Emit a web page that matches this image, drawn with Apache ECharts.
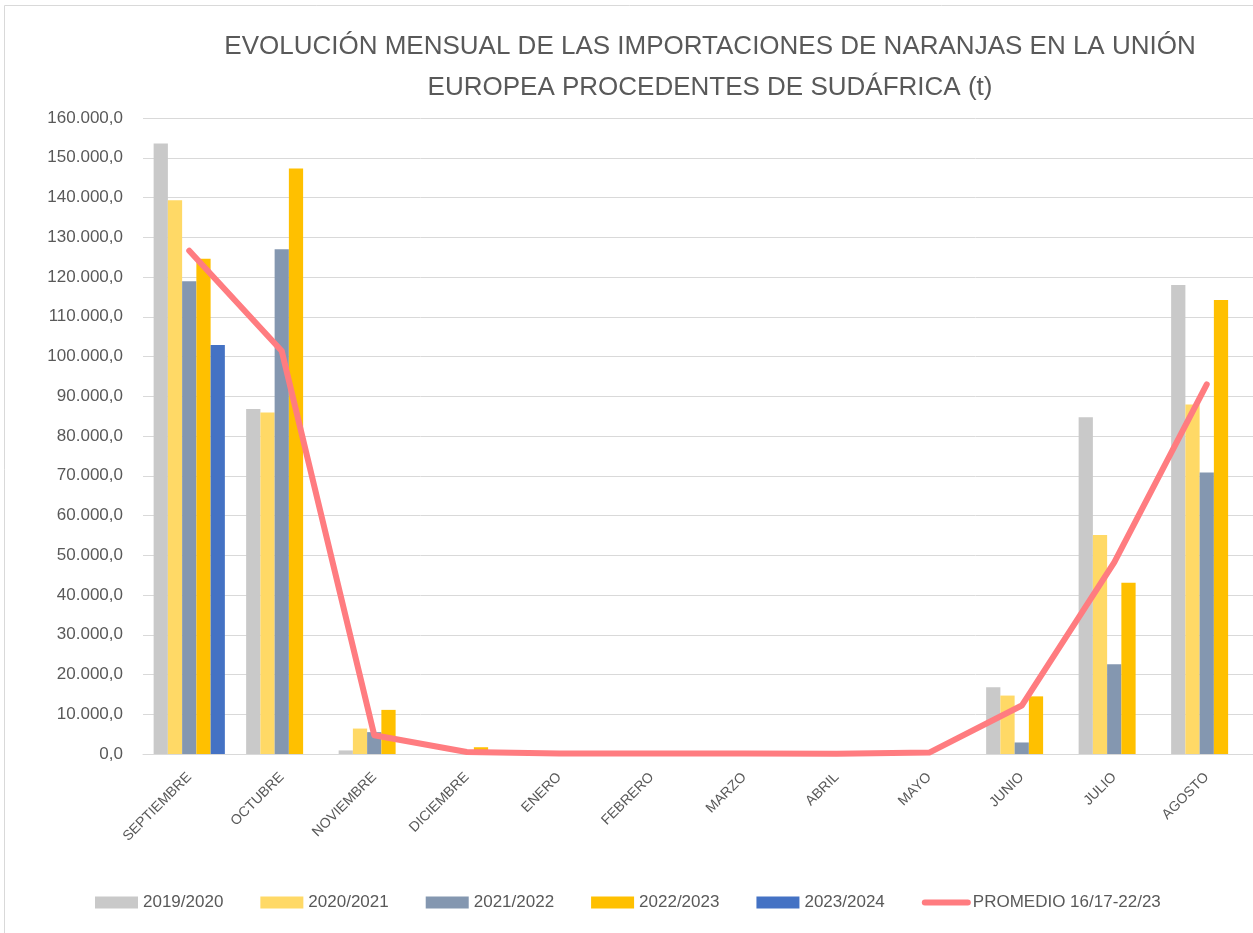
<!DOCTYPE html>
<html>
<head>
<meta charset="utf-8">
<script src="https://cdn.jsdelivr.net/npm/echarts@6/dist/echarts.min.js"></script>
<style>
  html, body { margin: 0; padding: 0; background: #fff; }
  #chart { width: 1253px; height: 933px; }
</style>
</head>
<body>
<div id="chart"></div>
<script>
var meses = ['SEPTIEMBRE', 'OCTUBRE', 'NOVIEMBRE', 'DICIEMBRE', 'ENERO', 'FEBRERO',
             'MARZO', 'ABRIL', 'MAYO', 'JUNIO', 'JULIO', 'AGOSTO'];
var campanas = ['2019/2020', '2020/2021', '2021/2022', '2022/2023', '2023/2024'];
var nombrePromedio = 'PROMEDIO 16/17-22/23';

var datos1920 = [153600, 86800, 900, 0, 0, 0, 0, 0, 0, 16800, 84700, 118000];
var datos2021 = [139300, 85900, 6400, 0, 0, 0, 0, 0, 0, 14700, 55100, 87900];
var datos2122 = [118900, 127000, 5500, 0, 0, 0, 0, 0, 0, 2900, 22600, 70800];
var datos2223 = [124600, 147300, 11100, 1700, 0, 0, 0, 0, 0, 14500, 43100, 114200];
var datos2324 = [102900, null, null, null, null, null, null, null, null, null, null, null];
var promedio = [126600, 101400, 4700, 500, 100, 100, 100, 50, 350, 12200, 48200, 93000];

var colores = ['#C9C9C9', '#FFD966', '#8497B0', '#FFC000', '#4472C4'];
var colorLinea = '#FF7C80';
var gris = '#595959';
var fuente = 'Liberation Sans';

function formatoES(v) {
    var s = Math.round(v).toString().replace(/\B(?=(\d{3})+(?!\d))/g, '.');
    return s + ',0';
}

var chart = echarts.init(document.getElementById('chart'));

var series = [datos1920, datos2021, datos2122, datos2223, datos2324].map(function (d, i) {
    return {
        name: campanas[i],
        type: 'bar',
        data: d,
        barGap: 0,
        barCategoryGap: '23%',
        itemStyle: { color: colores[i] },
        emphasis: { disabled: true }
    };
});
series.push({
    name: nombrePromedio,
    type: 'line',
    data: promedio,
    symbol: 'none',
    z: 5,
    lineStyle: { color: colorLinea, width: 6, cap: 'round', join: 'round' },
    itemStyle: { color: colorLinea }
});

var legendData = campanas.map(function (c) {
    return { name: c, icon: 'rect' };
});
legendData.push({
    name: nombrePromedio,
    itemStyle: { opacity: 0 },
    lineStyle: { width: 6, cap: 'round' }
});

var option = {
    animation: false,
    title: {
        text: 'EVOLUCIÓN MENSUAL DE LAS IMPORTACIONES DE NARANJAS EN LA UNIÓN\nEUROPEA PROCEDENTES DE SUDÁFRICA (t)',
        left: 705,
        top: 21,
        textAlign: 'center',
        textStyle: {
            color: gris,
            fontFamily: fuente,
            fontSize: 26,
            fontWeight: 'normal',
            lineHeight: 41
        }
    },
    legend: {
        data: legendData,
        left: 90,
        top: 889,
        itemWidth: 43,
        itemHeight: 12,
        itemGap: 37,
        textStyle: { color: gris, fontFamily: fuente, fontSize: 17 }
    },
    grid: { left: 143, top: 118, width: 1111, height: 636, containLabel: false },
    xAxis: {
        type: 'category',
        data: meses,
        axisTick: { show: false },
        axisLine: { lineStyle: { color: '#D9D9D9', width: 1 } },
        axisLabel: {
            interval: 0,
            rotate: 45,
            margin: 21,
            color: gris,
            fontFamily: fuente,
            fontSize: 14
        }
    },
    yAxis: {
        type: 'value',
        min: 0,
        max: 160000,
        interval: 10000,
        axisLine: { show: false },
        axisTick: { show: false },
        splitLine: { lineStyle: { color: '#D9D9D9', width: 1 } },
        axisLabel: {
            margin: 20,
            color: gris,
            fontFamily: fuente,
            fontSize: 17,
            formatter: formatoES
        }
    },
    graphic: [{
        type: 'rect',
        shape: { x: 4.5, y: 5.5, width: 1300, height: 1000 },
        style: { fill: null, stroke: '#D9D9D9', lineWidth: 1 },
        silent: true,
        z: -10
    }],
    series: series
};

chart.setOption(option);
window.addEventListener('resize', function () {
    chart.resize();
});
</script>
</body>
</html>
